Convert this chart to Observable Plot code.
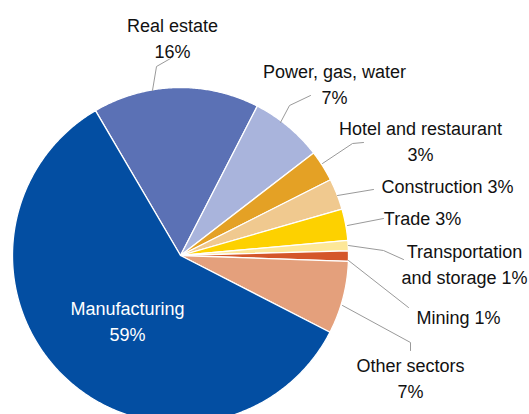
<!DOCTYPE html>
<html><head><meta charset="utf-8">
<script src="https://cdn.jsdelivr.net/npm/d3@7"></script>
<script src="https://cdn.jsdelivr.net/npm/@observablehq/plot@0.6"></script>
<style>html,body{margin:0;padding:0;background:#fff}svg{display:block}</style>
</head><body><div id="chart"></div>
<script>
// ---- data ----
const sectors = ["Real estate","Power, gas, water","Hotel and restaurant","Construction","Trade","Transportation and storage","Mining","Other sectors","Manufacturing"];
const shares = [16,7,3,3,3,1,1,7,59];
const labelTexts = ["Real estate\n16%","Power, gas, water\n7%","Hotel and restaurant\n3%","Construction 3%","Trade 3%","Transportation\nand storage 1%","Mining 1%","Other sectors\n7%","Manufacturing\n59%"];
const colors = ["#5b71b5","#a9b4dc","#e4a125","#f0c98f","#fdd100","#fde798","#d4562a","#e4a07c","#034ea2"];

// ---- layout (pixels) ----
const W = 529, H = 414, cx = 180, cy = 255, R = 168;
const startDeg = -30.4;
// label anchors (centre x, last-line baseline y) as offsets from pie centre, px
const labelOffsets = [[-8,-198],[154,-152],[240,-95],[267,-63],[242,-31],[284,28],[278,68],[230,142],[-53,85]];
const labelColors = ["#111","#111","#111","#111","#111","#111","#111","#111","#fff"];
// leader polylines, offsets from pie centre, px
const leaders = [
  [[-28,-165],[-24,-189],[-10,-197]],
  [[100,-133],[109,-150],[130,-160]],
  [[142,-92],[172,-112],[183,-113]],
  [[157,-60],[193,-66]],
  [[167,-30],[203,-37]],
  [[168,-10],[203,-5],[223,4]],
  [[168,5],[228,52]],
  [[162,50],[230,87],[230,95]]
];

// ---- slices via d3.pie, drawn as closed polygons in unit space ----
const pie = d3.pie().sort(null).startAngle(startDeg*Math.PI/180).endAngle(startDeg*Math.PI/180 + 2*Math.PI)(shares);
const slicePts = [];
pie.forEach((p, i) => {
  const n = Math.max(2, Math.ceil((p.endAngle - p.startAngle) / (Math.PI/360)));
  slicePts.push({k: i, x: 0, y: 0, c: colors[i]});
  for (let j = 0; j <= n; j++) {
    const a = p.startAngle + (p.endAngle - p.startAngle) * j / n;
    slicePts.push({k: i, x: Math.sin(a), y: -Math.cos(a), c: colors[i]});
  }
  slicePts.push({k: i, x: 0, y: 0, c: colors[i]});
});
const labels = sectors.map((s, i) => ({x: labelOffsets[i][0]/R, y: labelOffsets[i][1]/R, t: labelTexts[i], c: labelColors[i]}));
const leaderPts = leaders.flatMap((l, i) => l.map(([dx, dy]) => ({k: i, x: dx/R, y: dy/R})));

const chart = Plot.plot({
  width: W, height: H,
  margin: 0,
  x: {domain: [-cx/R, (W-cx)/R], range: [0, W], axis: null},
  y: {domain: [-cy/R, (H-cy)/R], range: [0, H], axis: null},
  color: {type: "identity"},
  style: {fontFamily: "'Liberation Sans',Arial,sans-serif", background: "#fff"},
  marks: [
    Plot.line(slicePts, {x: "x", y: "y", z: "k", fill: "c", stroke: "#fff", strokeWidth: 1.3, curve: "linear"}),
    Plot.line(leaderPts, {x: "x", y: "y", z: "k", stroke: "#9a9a9a", strokeWidth: 1, curve: "linear"}),
    Plot.text(labels, {x: "x", y: "y", text: "t", fill: "c", fontSize: 18, lineHeight: 1.39, lineAnchor: "bottom", textAnchor: "middle"})
  ]
});
document.getElementById("chart").appendChild(chart);
</script>
</body></html>
